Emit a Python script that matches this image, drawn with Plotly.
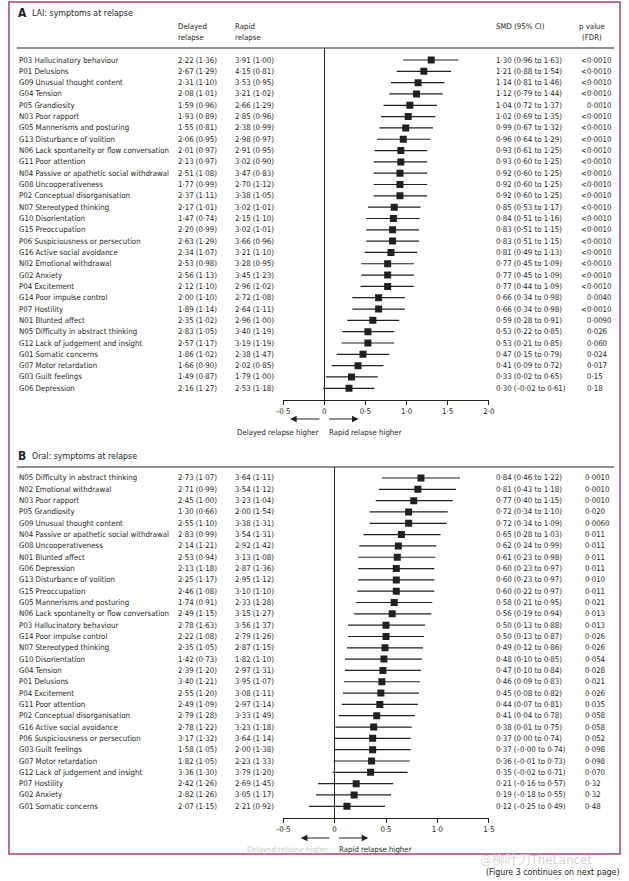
import math
import plotly.graph_objects as go

FONT = "Liberation Sans Narrow, Noto Sans Condensed, DejaVu Sans Condensed, sans-serif"
INK = "#231f20"
W, H = 629, 881
FS = 7.8

# ---- panel A: LAI, symptoms at relapse ----
items_a = [
    "P03 Hallucinatory behaviour", "P01 Delusions", "G09 Unusual thought content",
    "G04 Tension", "P05 Grandiosity", "N03 Poor rapport",
    "G05 Mannerisms and posturing", "G13 Disturbance of volition",
    "N06 Lack spontaneity or flow conversation", "G11 Poor attention",
    "N04 Passive or apathetic social withdrawal", "G08 Uncooperativeness",
    "P02 Conceptual disorganisation", "N07 Stereotyped thinking",
    "G10 Disorientation", "G15 Preoccupation", "P06 Suspiciousness or persecution",
    "G16 Active social avoidance", "N02 Emotional withdrawal", "G02 Anxiety",
    "P04 Excitement", "G14 Poor impulse control", "P07 Hostility",
    "N01 Blunted affect", "N05 Difficulty in abstract thinking",
    "G12 Lack of judgement and insight", "G01 Somatic concerns",
    "G07 Motor retardation", "G03 Guilt feelings", "G06 Depression",
]
delayed_mean_a = [2.22, 2.67, 2.31, 2.08, 1.59, 1.93, 1.55, 2.06, 2.01, 2.13,
                  2.51, 1.77, 2.37, 2.17, 1.47, 2.20, 2.63, 2.34, 2.53, 2.56,
                  2.12, 2.00, 1.89, 2.35, 2.83, 2.57, 1.86, 1.66, 1.49, 2.16]
delayed_sd_a = [1.36, 1.29, 1.10, 1.01, 0.96, 0.89, 0.81, 0.95, 0.97, 0.97,
                1.08, 0.99, 1.11, 1.01, 0.74, 0.99, 1.29, 1.07, 0.98, 1.13,
                1.10, 1.10, 1.14, 1.02, 1.05, 1.17, 1.02, 0.90, 0.87, 1.27]
rapid_mean_a = [3.91, 4.15, 3.53, 3.21, 2.66, 2.85, 2.38, 2.98, 2.91, 3.02,
                3.47, 2.70, 3.38, 3.02, 2.15, 3.02, 3.66, 3.21, 3.28, 3.45,
                2.96, 2.72, 2.64, 2.96, 3.40, 3.19, 2.38, 2.02, 1.79, 2.53]
rapid_sd_a = [1.00, 0.81, 0.95, 1.02, 1.29, 0.96, 0.99, 0.97, 0.95, 0.90,
              0.83, 1.12, 1.05, 1.01, 1.10, 1.01, 0.96, 1.10, 0.95, 1.23,
              1.02, 1.08, 1.11, 1.00, 1.19, 1.19, 1.47, 0.85, 1.00, 1.18]
smd_a = [1.30, 1.21, 1.14, 1.12, 1.04, 1.02, 0.99, 0.96, 0.93, 0.93,
         0.92, 0.92, 0.92, 0.85, 0.84, 0.83, 0.83, 0.81, 0.77, 0.77,
         0.77, 0.66, 0.66, 0.59, 0.53, 0.53, 0.47, 0.41, 0.33, 0.30]
lo_a = [0.96, 0.88, 0.81, 0.79, 0.72, 0.69, 0.67, 0.64, 0.61, 0.60,
        0.60, 0.60, 0.60, 0.53, 0.51, 0.51, 0.51, 0.49, 0.45, 0.45,
        0.44, 0.34, 0.34, 0.28, 0.22, 0.21, 0.15, 0.09, 0.02, -0.02]
hi_a = [1.63, 1.54, 1.46, 1.44, 1.37, 1.35, 1.32, 1.29, 1.25, 1.25,
        1.25, 1.25, 1.25, 1.17, 1.16, 1.15, 1.15, 1.13, 1.09, 1.09,
        1.09, 0.98, 0.98, 0.91, 0.85, 0.85, 0.79, 0.72, 0.65, 0.61]
p_a = ["<0·0010"] * 4 + ["0·0010"] + ["<0·0010"] * 16 + [
    "0·0040", "<0·0010", "0·0090", "0·026", "0·060", "0·024", "0·017", "0·15", "0·18"]

# ---- panel B: oral, symptoms at relapse ----
items_b = [
    "N05 Difficulty in abstract thinking", "N02 Emotional withdrawal",
    "N03 Poor rapport", "P05 Grandiosity", "G09 Unusual thought content",
    "N04 Passive or apathetic social withdrawal", "G08 Uncooperativeness",
    "N01 Blunted affect", "G06 Depression", "G13 Disturbance of volition",
    "G15 Preoccupation", "G05 Mannerisms and posturing",
    "N06 Lack spontaneity or flow conversation", "P03 Hallucinatory behaviour",
    "G14 Poor impulse control", "N07 Stereotyped thinking", "G10 Disorientation",
    "G04 Tension", "P01 Delusions", "P04 Excitement", "G11 Poor attention",
    "P02 Conceptual disorganisation", "G16 Active social avoidance",
    "P06 Suspiciousness or persecution", "G03 Guilt feelings",
    "G07 Motor retardation", "G12 Lack of judgement and insight",
    "P07 Hostility", "G02 Anxiety", "G01 Somatic concerns",
]
delayed_mean_b = [2.73, 2.71, 2.45, 1.30, 2.55, 2.83, 2.14, 2.53, 2.13, 2.25,
                  2.46, 1.74, 2.49, 2.78, 2.22, 2.35, 1.42, 2.39, 3.40, 2.55,
                  2.49, 2.79, 2.78, 3.17, 1.58, 1.82, 3.36, 2.42, 2.82, 2.07]
delayed_sd_b = [1.07, 0.99, 1.00, 0.66, 1.10, 0.99, 1.21, 0.94, 1.18, 1.17,
                1.08, 0.91, 1.15, 1.63, 1.08, 1.05, 0.73, 1.20, 1.21, 1.20,
                1.09, 1.28, 1.22, 1.32, 1.05, 1.05, 1.30, 1.26, 1.26, 1.15]
rapid_mean_b = [3.64, 3.54, 3.23, 2.00, 3.38, 3.54, 2.92, 3.13, 2.87, 2.95,
                3.10, 2.33, 3.15, 3.56, 2.79, 2.87, 1.82, 2.97, 3.95, 3.08,
                2.97, 3.33, 3.23, 3.64, 2.00, 2.23, 3.79, 2.69, 3.05, 2.21]
rapid_sd_b = [1.11, 1.12, 1.04, 1.54, 1.31, 1.31, 1.42, 1.08, 1.36, 1.12,
              1.10, 1.28, 1.27, 1.37, 1.26, 1.15, 1.10, 1.31, 1.07, 1.11,
              1.14, 1.49, 1.18, 1.14, 1.38, 1.33, 1.20, 1.45, 1.17, 0.92]
smd_b = [0.84, 0.81, 0.77, 0.72, 0.72, 0.65, 0.62, 0.61, 0.60, 0.60,
         0.60, 0.58, 0.56, 0.50, 0.50, 0.49, 0.48, 0.47, 0.46, 0.45,
         0.44, 0.41, 0.38, 0.37, 0.37, 0.36, 0.35, 0.21, 0.19, 0.12]
lo_b = [0.46, 0.43, 0.40, 0.34, 0.34, 0.28, 0.24, 0.23, 0.23, 0.23,
        0.22, 0.21, 0.19, 0.13, 0.13, 0.12, 0.10, 0.10, 0.09, 0.08,
        0.07, 0.04, 0.01, 0.00, -0.00, -0.01, -0.02, -0.16, -0.18, -0.25]
hi_b = [1.22, 1.18, 1.15, 1.10, 1.09, 1.03, 0.99, 0.98, 0.97, 0.97,
        0.97, 0.95, 0.94, 0.88, 0.87, 0.86, 0.85, 0.84, 0.83, 0.82,
        0.81, 0.78, 0.75, 0.74, 0.74, 0.73, 0.71, 0.57, 0.55, 0.49]
p_b = ["0·0010", "0·0010", "0·0010", "0·020", "0·0060", "0·011", "0·011",
       "0·011", "0·011", "0·010", "0·011", "0·021", "0·013", "0·013", "0·026",
       "0·026", "0·054", "0·028", "0·021", "0·026", "0·035", "0·058", "0·058",
       "0·052", "0·098", "0·098", "0·070", "0·32", "0·32", "0·48"]

ticks_a = [-0.5, 0, 0.5, 1.0, 1.5, 2.0]
tick_text_a = ["–0·5", "0", "0·5", "1·0", "1·5", "2·0"]
ticks_b = [-0.5, 0, 0.5, 1.0, 1.5]
tick_text_b = ["–0·5", "0", "0·5", "1·0", "1·5"]


def num(v):
    s = f"{abs(v):.2f}".replace(".", "·")
    return "–" + s if math.copysign(1, v) < 0 else s


def px_x(p):
    return p / W


def px_y(p):
    return 1 - p / H


fig = go.Figure()
annotations = []
shapes = []


def txt(x, y, text, size=FS, anchor="left", color=INK, yref="paper", xref="paper"):
    annotations.append(dict(
        x=x, y=y, xref=xref, yref=yref, text=text, showarrow=False,
        xanchor=anchor, yanchor="middle", borderpad=0,
        font=dict(family=FONT, size=size, color=color)))


def panel(axn, items, dm, ds, rm, rs, smd, lo, hi, pv, p_x):
    ysuf = "" if axn == 1 else str(axn)
    n = len(items)
    fig.add_trace(go.Scatter(
        x=smd, y=list(range(n)), mode="markers",
        marker=dict(symbol="square", size=7, color=INK),
        error_x=dict(type="data", symmetric=False,
                     array=[h - d for h, d in zip(hi, smd)],
                     arrayminus=[d - l for d, l in zip(smd, lo)],
                     color=INK, thickness=1.2, width=0),
        xaxis="x" + ysuf, yaxis="y" + ysuf, showlegend=False, hoverinfo="skip"))
    for i in range(n):
        yr = "y" + ysuf
        txt(px_x(11), i, items[i], yref=yr)
        txt(px_x(174), i, f"{num(dm[i])} ({num(ds[i])})", yref=yr)
        txt(px_x(232), i, f"{num(rm[i])} ({num(rs[i])})", yref=yr)
        txt(px_x(498), i, f"{num(smd[i])} ({num(lo[i])} to {num(hi[i])})", yref=yr)
        px = p_x - 6 if pv[i].startswith("<") else p_x
        txt(px_x(px), i, pv[i], yref=yr)


panel(1, items_a, delayed_mean_a, delayed_sd_a, rapid_mean_a, rapid_sd_a,
      smd_a, lo_a, hi_a, p_a, 591)
panel(2, items_b, delayed_mean_b, delayed_sd_b, rapid_mean_b, rapid_sd_b,
      smd_b, lo_b, hi_b, p_b, 589)

# titles and headers
txt(px_x(10), px_y(13), "<b>A</b>", size=12)
txt(px_x(25), px_y(13), "LAI: symptoms at relapse", size=8.8)
txt(px_x(10), px_y(456), "<b>B</b>", size=12)
txt(px_x(25), px_y(456), "Oral: symptoms at relapse", size=8.8)
txt(px_x(174), px_y(27), "Delayed")
txt(px_x(174), px_y(38), "relapse")
txt(px_x(232), px_y(27), "Rapid")
txt(px_x(232), px_y(38), "relapse")
txt(px_x(498), px_y(27), "SMD (95% CI)")
txt(px_x(583), px_y(27), "p value")
txt(px_x(586), px_y(38), "(FDR)")

# direction arrows
for (y_arrow, y_text, left_head, left_tail, right_tail, right_head, dcol) in [
        (419, 432, 289, 320, 328, 359, INK),
        (838, 849, 300, 330, 338, 369, "#c9c9c9")]:
    for head, tail in [(left_head, left_tail), (right_head, right_tail)]:
        annotations.append(dict(
            x=px_x(head), y=px_y(y_arrow), xref="paper", yref="paper",
            ax=tail - head, ay=0, showarrow=True, arrowhead=2, arrowsize=1.1,
            arrowwidth=1.2, arrowcolor=INK, text=""))
    txt(px_x(left_tail), px_y(y_text), "Delayed relapse higher", anchor="right", color=dcol)
    txt(px_x(right_tail), px_y(y_text), "Rapid relapse higher", anchor="left")

# footer and watermark
txt(px_x(627), px_y(872), "(Figure 3 continues on next page)", size=8.8, anchor="right")
txt(px_x(482), px_y(859), "@柳叶刀TheLancet", size=13, color="#d6d6d6")

# rules and frame
for y in (48, 467):
    shapes.append(dict(type="line", xref="paper", yref="paper",
                       x0=px_x(10), x1=px_x(620), y0=px_y(y), y1=px_y(y),
                       line=dict(color=INK, width=1.2)))
shapes.append(dict(type="rect", xref="paper", yref="paper",
                   x0=px_x(2), x1=px_x(626), y0=px_y(2), y1=px_y(854),
                   line=dict(color="#a8417a", width=1.5)))

row_a0, row_b0, step = 60, 478, 11.32


def xaxis(rng, tv, tt, anchor):
    return dict(domain=[px_x(282), px_x(492)], range=rng, anchor=anchor,
                tickvals=tv, ticktext=tt, ticks="outside", ticklen=4, tickwidth=1,
                tickcolor=INK, showline=True, linecolor=INK, linewidth=1.2,
                showgrid=False, zeroline=True, zerolinecolor=INK, zerolinewidth=1.2,
                tickfont=dict(family=FONT, size=FS, color=INK), fixedrange=True)


def yaxis(top, bottom, row0, anchor):
    return dict(domain=[px_y(bottom), px_y(top)],
                range=[(bottom - row0) / step, (top - row0) / step],
                anchor=anchor, visible=False, showgrid=False, zeroline=False,
                fixedrange=True)


fig.update_layout(
    width=W, height=H, margin=dict(l=0, r=0, t=0, b=0),
    paper_bgcolor="white", plot_bgcolor="white",
    font=dict(family=FONT, size=FS, color=INK),
    xaxis=xaxis([-0.5, 2.0], ticks_a, tick_text_a, "y"),
    yaxis=yaxis(48, 400, row_a0, "x"),
    xaxis2=xaxis([-0.5, 1.5], ticks_b, tick_text_b, "y2"),
    yaxis2=yaxis(467, 818, row_b0, "x2"),
    annotations=annotations, shapes=shapes,
)

# page body has a default margin; drop it so the figure sits at the window origin
fig.write_html("out.html", config={"displayModeBar": False},
               post_script="document.body.style.margin='0';document.body.style.overflow='hidden';")
